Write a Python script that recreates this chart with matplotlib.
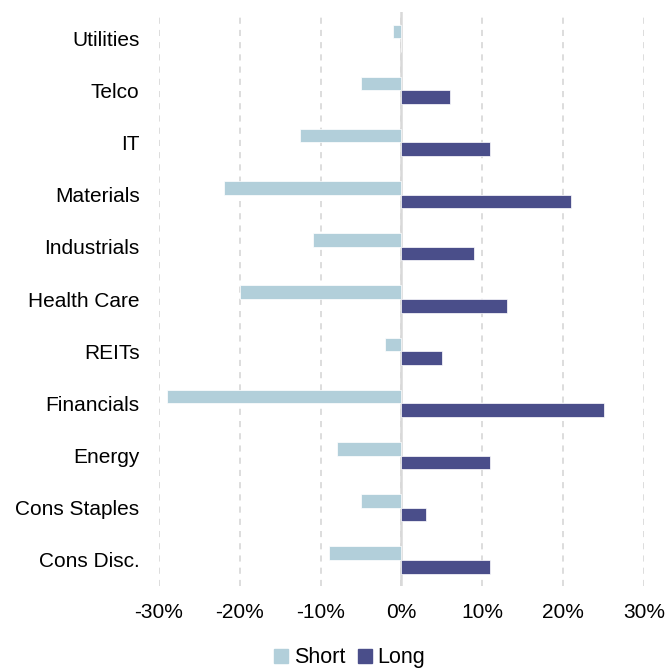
import matplotlib.pyplot as plt
from matplotlib.ticker import PercentFormatter
from matplotlib.patches import Patch

plt.rcParams['font.family'] = ['Liberation Sans', 'DejaVu Sans']
plt.rcParams['axes.unicode_minus'] = False

# sectors listed bottom -> top
sectors = ['Cons Disc.', 'Cons Staples', 'Energy', 'Financials', 'REITs',
           'Health Care', 'Industrials', 'Materials', 'IT', 'Telco', 'Utilities']
short = [-9, -5, -8, -29, -2, -20, -11, -22, -12.5, -5, -1]
long_ = [11, 3, 11, 25, 5, 13, 9, 21, 11, 6, 0]

col_short = '#B2CFDA'
col_long = '#4A4E8A'

fig = plt.figure(figsize=(6.66, 6.69), dpi=100)
ax = fig.add_axes([0.2387, 0.124, 0.7283, 0.858])

pos = list(range(len(sectors)))
h = 0.26
ax.barh([p + h / 2 for p in pos], short, height=h, color=col_short,
        edgecolor='white', linewidth=0.5, zorder=3)
ax.barh([p - h / 2 for p in pos], long_, height=h, color=col_long,
        edgecolor='white', linewidth=0.5, zorder=3)

ax.set_xlim(-30, 30)
ax.set_ylim(-0.5, len(sectors) - 0.5)
ax.set_xticks([-30, -20, -10, 0, 10, 20, 30])
ax.xaxis.set_major_formatter(PercentFormatter(decimals=0))
ax.set_yticks(pos)
ax.set_yticklabels(sectors)

ax.grid(axis='x', color='#D3D3D3', linestyle=(0, (4, 4)), linewidth=1.1, zorder=0)
ax.axvline(0, color='#D9D9D9', linewidth=1.8, zorder=2)

for s in ax.spines.values():
    s.set_visible(False)
ax.tick_params(axis='both', length=0, labelsize=15, colors='black')
ax.tick_params(axis='y', pad=14)
ax.tick_params(axis='x', pad=12)

handles = [Patch(color=col_short, label='Short'), Patch(color=col_long, label='Long')]
fig.legend(handles=handles, loc='lower center', bbox_to_anchor=(0.525, -0.028), ncol=2,
           frameon=False, fontsize=15.5, handlelength=0.65, handleheight=0.65,
           handletextpad=0.25, columnspacing=0.6)

fig.savefig('out.png', dpi=100)
